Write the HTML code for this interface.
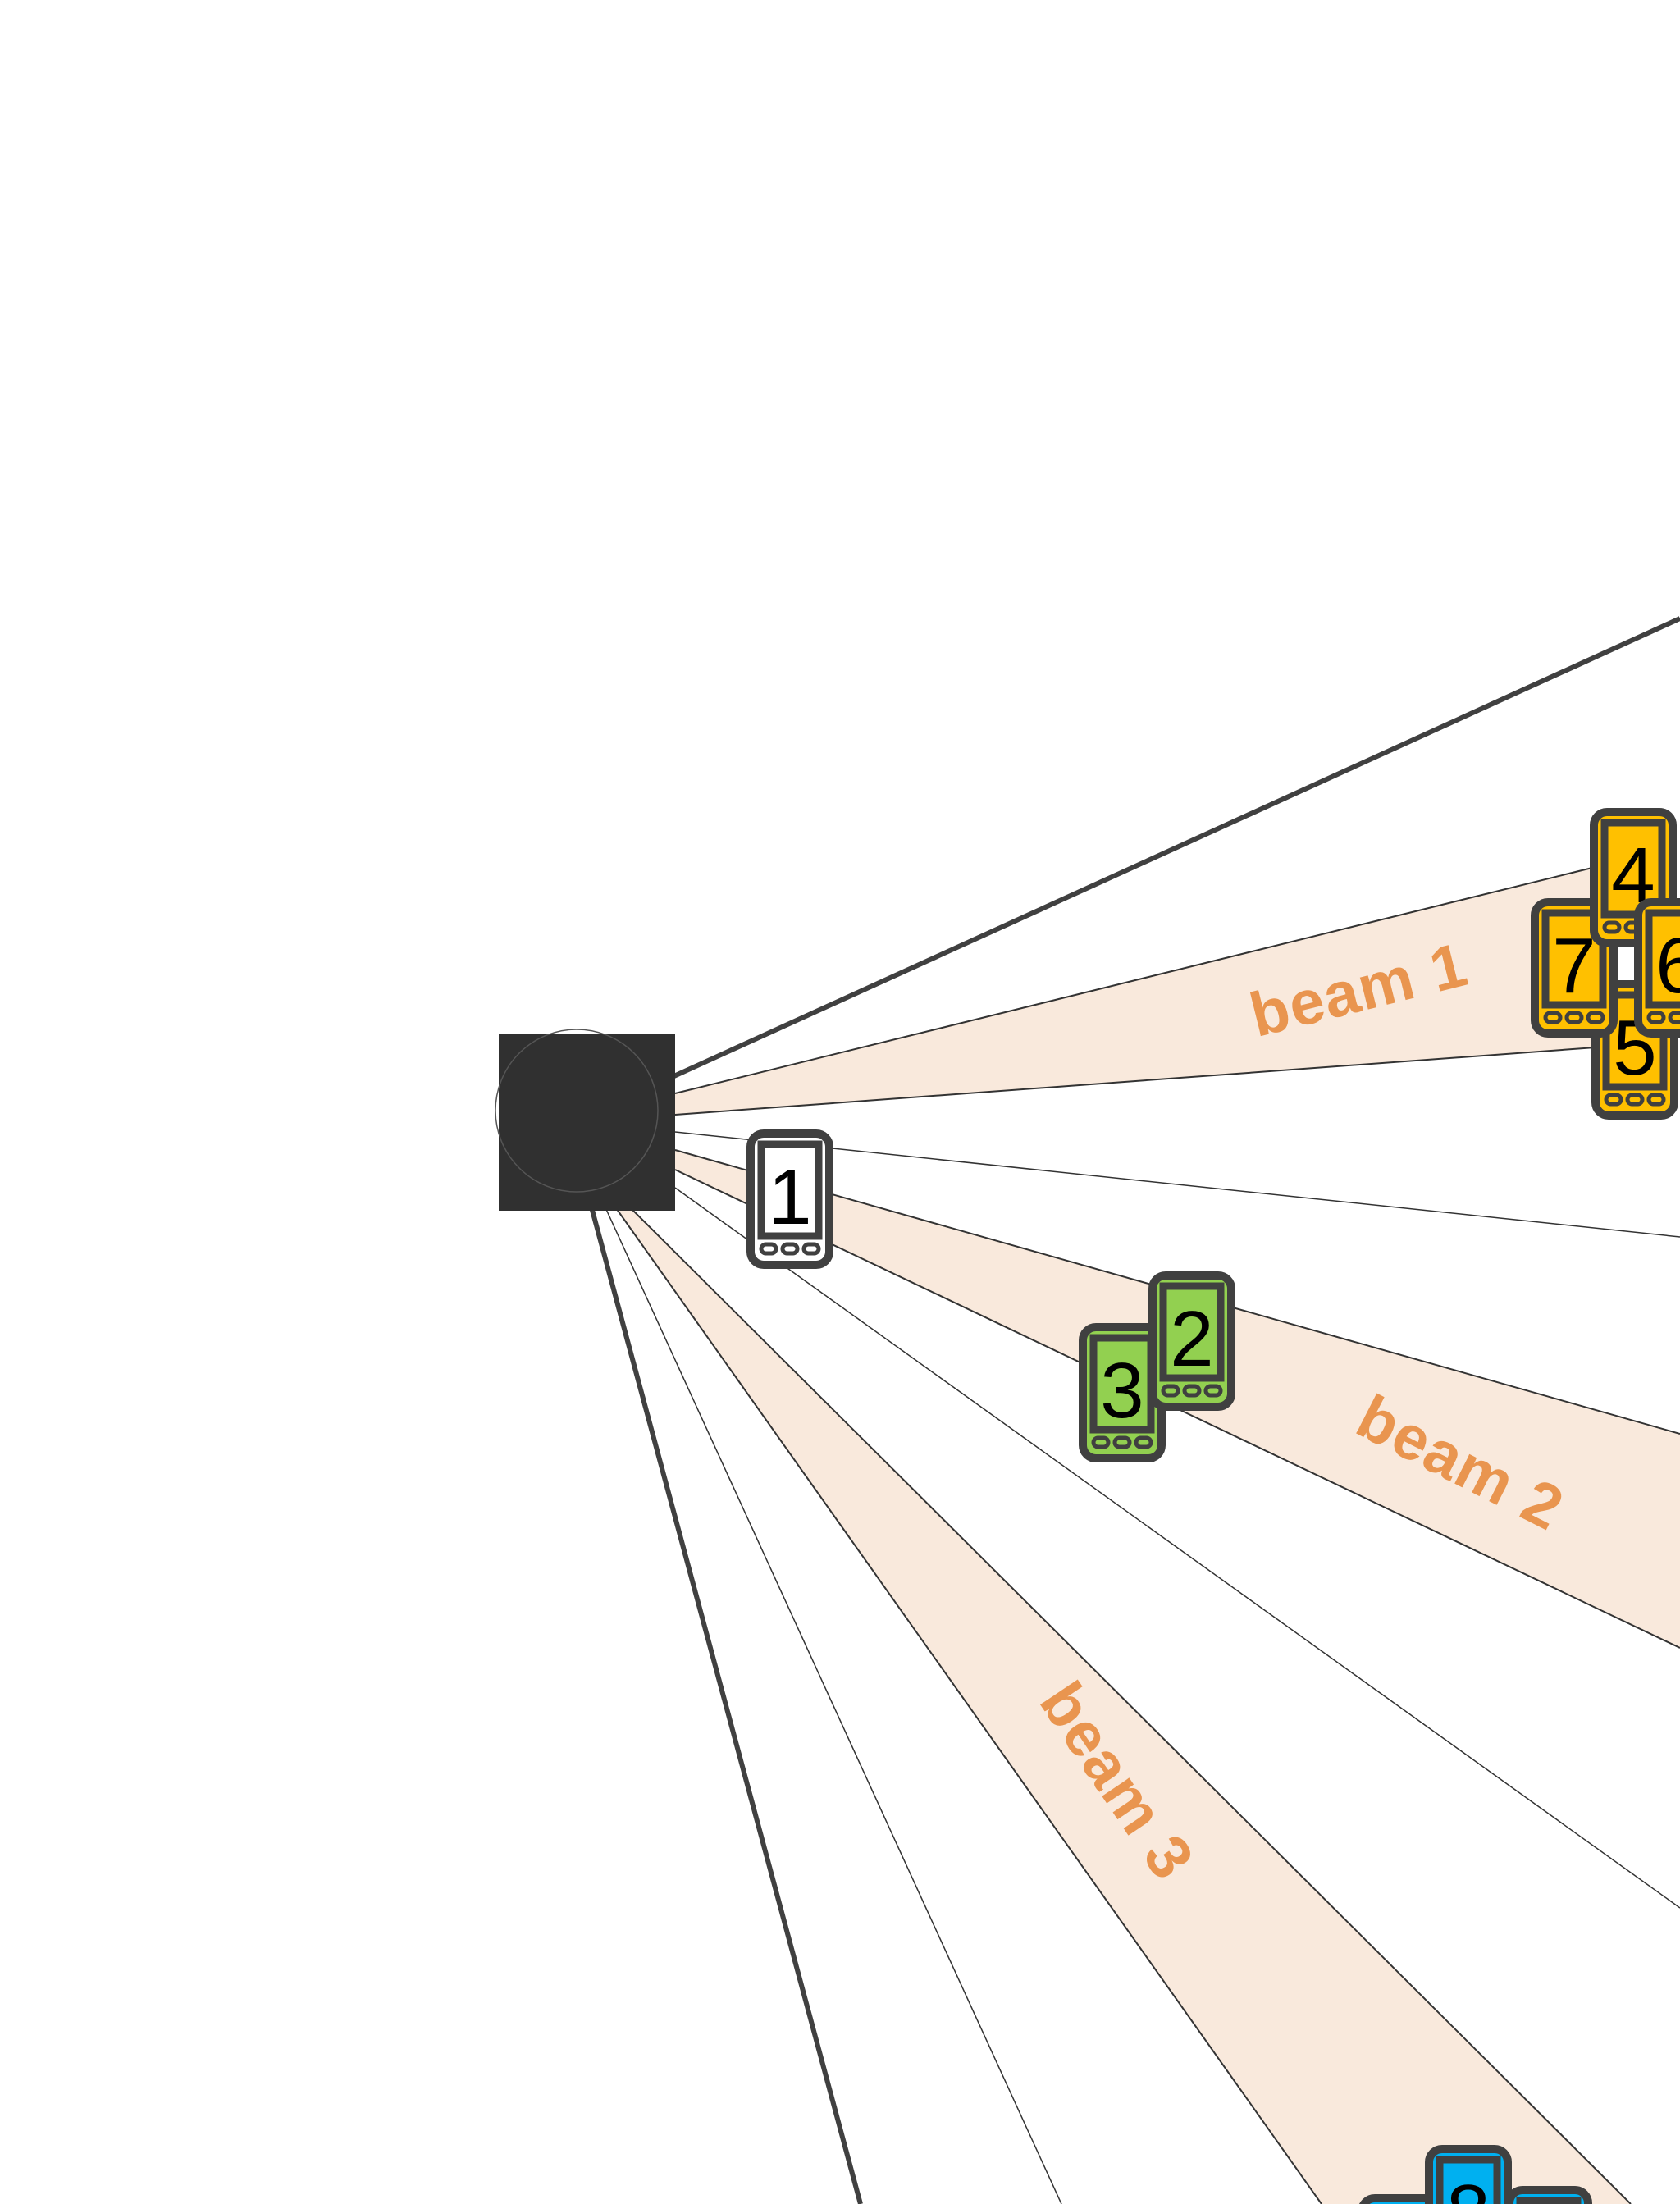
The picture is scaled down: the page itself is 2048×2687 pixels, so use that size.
<!DOCTYPE html>
<html><head><meta charset="utf-8"><style>html,body{margin:0;padding:0;background:#fff;width:2048px;height:2687px;overflow:hidden}svg{display:block;overflow:hidden}</style></head>
<body>
<svg width="2048" height="2687" viewBox="0 0 2048 2687" xmlns="http://www.w3.org/2000/svg">
<defs>
<clipPath id="cp"><rect x="0" y="0" width="2048" height="2687"/></clipPath>
<g id="ph">
<rect x="5" y="5" width="96" height="160" rx="16" stroke="#404040" stroke-width="10"/>
<rect x="18" y="18" width="70" height="112" stroke="#404040" stroke-width="9"/>
<rect x="18" y="140" width="18" height="11" rx="5.5" stroke="#404040" stroke-width="5"/>
<rect x="44" y="140" width="18" height="11" rx="5.5" stroke="#404040" stroke-width="5"/>
<rect x="70" y="140" width="18" height="11" rx="5.5" stroke="#404040" stroke-width="5"/>
</g>
</defs>
<g clip-path="url(#cp)">
<g fill="#F9E9DC" stroke="none">
<polygon points="823,1333 1945,1057 1945,1277 823,1359"/>
<polygon points="823,1402 2048,1748 2048,2009 823,1426"/>
<polygon points="766,1470 1988,2687 1611,2687 749,1470"/>
</g>
<g stroke="#333" stroke-width="2">
<line x1="823" y1="1333" x2="1945" y2="1057"/>
<line x1="823" y1="1359" x2="1945" y2="1277"/>
<line x1="823" y1="1402" x2="2048" y2="1748"/>
<line x1="823" y1="1426" x2="2048" y2="2009"/>
<line x1="766" y1="1470" x2="1988" y2="2687"/>
<line x1="749" y1="1470" x2="1611" y2="2687"/>
<line x1="823" y1="1380" x2="2048" y2="1508" stroke-width="1.5"/>
<line x1="823" y1="1448" x2="2048" y2="2326" stroke-width="1.5"/>
<line x1="737" y1="1470" x2="1294" y2="2687" stroke-width="1.5"/>
</g>
<g stroke="#404040" stroke-width="6">
<line x1="815" y1="1315" x2="2048" y2="754"/>
<line x1="720" y1="1468" x2="1049" y2="2687"/>
</g>
<rect x="608" y="1261" width="215" height="215" fill="#303030"/>
<circle cx="703" cy="1354" r="99" fill="none" stroke="#555" stroke-width="1.5"/>
<g font-family="Liberation Sans, sans-serif" font-weight="bold" font-size="76" fill="#E9954F" text-anchor="middle">
<text transform="translate(1662,1232) rotate(-14)" textLength="268">beam 1</text>
<text transform="translate(1768,1806) rotate(27)" textLength="268">beam 2</text>
<text transform="translate(1340,2185) rotate(56)" textLength="268">beam 3</text>
</g>
<g font-family="Liberation Sans, sans-serif" font-size="96" fill="#000" text-anchor="middle">
<g transform="translate(910,1377)"><use href="#ph" fill="#fff"/><text x="53" y="115">1</text></g>
<g transform="translate(1315,1613)"><use href="#ph" fill="#92D050"/><text x="53" y="115">3</text></g>
<g transform="translate(1400,1550)"><use href="#ph" fill="#92D050"/><text x="53" y="115">2</text></g>
<g transform="translate(1940,1195)"><use href="#ph" fill="#FFC000"/><text x="53" y="115">5</text></g>
<g transform="translate(1866,1095)"><use href="#ph" fill="#FFC000"/><text x="53" y="115">7</text></g>
<g transform="translate(1938,985)"><use href="#ph" fill="#FFC000"/><text x="53" y="115">4</text></g>
<g transform="translate(1992,1095)"><use href="#ph" fill="#FFC000"/><text x="53" y="115">6</text></g>
<g transform="translate(1655,2675)"><use href="#ph" fill="#00B0F0"/></g>
<g transform="translate(1835,2665)"><use href="#ph" fill="#00B0F0"/></g>
<g transform="translate(1737,2615)"><use href="#ph" fill="#00B0F0"/><text x="53" y="115">8</text></g>
</g>
</g>
</svg>
</body></html>
